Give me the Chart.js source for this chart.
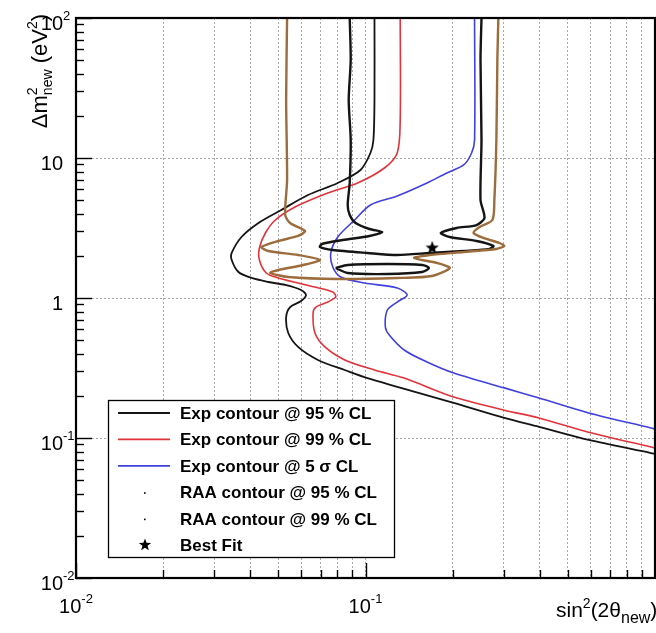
<!DOCTYPE html>
<html>
<head>
<meta charset="utf-8">
<script src="https://cdn.jsdelivr.net/npm/chart.js@4/dist/chart.umd.min.js"></script>
<style>
html,body{margin:0;padding:0;overflow:hidden;background:#fff;}
canvas{display:block;}
</style>
</head>
<body>
<canvas id="c" width="664" height="633" style="width:664px;height:633px"></canvas>
<script>
// ---------- data ----------
const xDecades = [0.01, 0.1, 1];
const yDecades = [0.01, 0.1, 1, 10, 100];
const xTickLabels = ['10^-2', '10^-1', '1'];
const yTickLabels = ['10^-2', '10^-1', '1', '10', '10^2'];

// Exp contour @ 95 % CL (black)
const exp95X = [0.1074,0.1074,0.1065,0.1040,0.0961,0.0802,0.0633,0.0512,0.0427,0.0373,0.0345,0.0345,0.0364,0.0404,0.0462,0.0528,0.0599,0.0623,0.0599,0.0549,0.0532,0.0541,0.0585,0.0685,0.0848,0.1016,0.2018,0.3016,0.3975,0.590,0.969,1.0];
const exp95Y = [100,25.96,13.45,10.86,8.21,6.628,5.441,4.252,3.434,2.727,2.097,1.868,1.534,1.390,1.301,1.239,1.141,1.051,0.952,0.862,0.732,0.562,0.447,0.361,0.306,0.268,0.178,0.139,0.120,0.0968,0.0781,0.0769];

// Exp contour @ 99 % CL (red)
const exp99X = [0.1318,0.1318,0.1287,0.1162,0.0939,0.0741,0.0571,0.0488,0.0451,0.0430,0.0430,0.0454,0.0500,0.0585,0.0669,0.0771,0.0789,0.0741,0.0674,0.0659,0.0669,0.0724,0.0848,0.1074,0.1360,0.2018,0.3016,0.3975,0.590,0.969,1.0];
const exp99Y = [100,18.68,10.86,8.483,6.628,5.623,4.467,3.607,2.913,2.276,1.868,1.509,1.390,1.280,1.198,1.104,1.017,0.936,0.862,0.781,0.562,0.447,0.361,0.306,0.268,0.196,0.158,0.139,0.110,0.0863,0.0848];

// Exp contour @ 5 sigma CL (blue)
const exp5sX = [0.2381,0.2381,0.2325,0.2183,0.1909,0.1631,0.1287,0.1040,0.0917,0.0802,0.0759,0.0771,0.0821,0.0992,0.1287,0.1393,0.1287,0.1190,0.1171,0.1208,0.1360,0.1631,0.2018,0.3016,0.3975,0.590,0.969,1.0];
const exp5sY = [100,13.45,10.86,8.913,7.816,6.628,5.353,4.617,3.607,2.727,2.097,1.665,1.413,1.280,1.179,1.051,0.936,0.821,0.621,0.544,0.425,0.349,0.291,0.228,0.193,0.151,0.118,0.116];

// RAA contour @ 95 % CL (black, open upper part)
const raa95X = [0.0882,0.0889,0.0875,0.0889,0.0882,0.0868,0.0882,0.0924,0.1032,0.1143,0.1032,0.0834,0.0707,0.0696,0.0771,0.1016,0.1287,0.1670,0.2183,0.2680,0.2766,0.2419,0.1955,0.1821,0.2066,0.2419,0.2576,0.2496,0.2516,0.2496,0.2516];
const raa95Y = [100,50.1,25.96,13.45,6.628,4.617,3.917,3.434,3.111,2.961,2.773,2.595,2.431,2.313,2.203,2.097,2.029,2.097,2.167,2.239,2.352,2.554,2.727,2.913,3.162,3.322,3.728,5.012,13.45,50.1,100];
// RAA contour @ 95 % CL (black, closed island)
const raa95IslandX = [0.0789,0.0868,0.1190,0.1568,0.1657,0.1568,0.1190,0.0868,0.0789];
const raa95IslandY = [1.638,1.721,1.750,1.721,1.638,1.534,1.484,1.509,1.638];

// RAA contour @ 99 % CL (brown)
const raa99X = [0.0536,0.0532,0.0536,0.0528,0.0549,0.0618,0.0585,0.0500,0.0437,0.0462,0.0585,0.0696,0.0609,0.0500,0.0469,0.0541,0.0802,0.1287,0.1696,0.1955,0.1764,0.1472,0.1670,0.2183,0.2832,0.3016,0.2900,0.2556,0.2362,0.2477,0.2744,0.2787,0.2832,0.2854,0.2877];
const raa99Y = [100,25.96,6.966,3.917,3.434,3.010,2.773,2.554,2.313,2.167,2.029,1.868,1.721,1.585,1.509,1.413,1.367,1.390,1.436,1.638,1.778,1.931,2.029,2.131,2.239,2.352,2.471,2.683,2.913,3.215,3.607,5.012,13.45,50.1,100];

// Best fit
const bestX = [0.17];
const bestY = [2.3];

const legendLabels = ['Exp contour @ 95 % CL','Exp contour @ 99 % CL','Exp contour @ 5 \u03c3 CL','RAA contour @ 95 % CL','RAA contour @ 99 % CL','Best Fit'];

// ---------- styling ----------
const FONT = '"Liberation Sans", Arial, Helvetica, sans-serif';
const C_BLACK = '#141414', C_RED = '#e3333a', C_BLUE = '#4040de', C_BROWN = '#9c6c3c';

function pts(xs, ys){ return xs.map((x,i)=>({x:x, y:ys[i]})); }
function isDecade(v){ const l = Math.log10(v); return Math.abs(l - Math.round(l)) < 1e-6; }
function gridValues(decades){
  const out = [];
  decades.forEach((d,i)=>{
    if (i === decades.length-1) { out.push(d); return; }
    for (let m=1; m<=9; m++) out.push(+(d*m).toPrecision(6));
  });
  return out;
}
function drawStar(ctx, cx, cy, R, r){
  ctx.beginPath();
  for (let i=0;i<10;i++){
    const ang = -Math.PI/2 + i*Math.PI/5;
    const rad = (i%2===0)?R:r;
    const px = cx + rad*Math.cos(ang), py = cy + rad*Math.sin(ang);
    if (i===0) ctx.moveTo(px,py); else ctx.lineTo(px,py);
  }
  ctx.closePath(); ctx.fill();
}
const starImg = document.createElement('canvas');
starImg.width = 16; starImg.height = 16;
(function(){ const c = starImg.getContext('2d'); c.fillStyle = '#000'; drawStar(c, 8, 8.6, 7, 2.9); })();

function richWidth(ctx, segs){
  let w = 0, prevW = 0;
  segs.forEach(s=>{
    ctx.font = (s.bold?'bold ':'') + s.size + 'px ' + FONT;
    const sw = ctx.measureText(s.t).width;
    if (s.stack){ w += Math.max(0, sw - prevW); }
    else { w += sw; prevW = sw; }
  });
  return w;
}
function drawRich(ctx, segs, x, y){
  let cx = x, prevStart = x, prevW = 0;
  segs.forEach(s=>{
    ctx.font = (s.bold?'bold ':'') + s.size + 'px ' + FONT;
    const sw = ctx.measureText(s.t).width;
    if (s.stack){
      ctx.fillText(s.t, prevStart, y + (s.dy||0));
      cx = prevStart + Math.max(prevW, sw);
    } else {
      ctx.fillText(s.t, cx, y + (s.dy||0));
      prevStart = cx; prevW = sw; cx += sw;
    }
  });
}
function labelSegs(lbl){
  const p = lbl.split('^');
  const segs = [{t:p[0], size:20}];
  if (p[1]) segs.push({t:p[1], size:13, dy:-10});
  return segs;
}

const decor = {
  id: 'decor',
  afterDatasetsDraw(chart){
    const {ctx, chartArea:a, scales:{x, y}} = chart;
    ctx.save();
    // inner tick marks
    ctx.strokeStyle = '#000'; ctx.lineWidth = 1.4;
    x.ticks.forEach(t=>{
      const px = Math.round(x.getPixelForValue(t.value)) + 0.5;
      const len = isDecade(t.value) ? 15 : 8;
      ctx.beginPath(); ctx.moveTo(px, a.bottom); ctx.lineTo(px, a.bottom - len); ctx.stroke();
    });
    y.ticks.forEach(t=>{
      const py = Math.round(y.getPixelForValue(t.value)) + 0.5;
      const len = isDecade(t.value) ? 16 : 8;
      ctx.beginPath(); ctx.moveTo(a.left, py); ctx.lineTo(a.left + len, py); ctx.stroke();
    });
    // frame
    ctx.lineWidth = 2.2;
    ctx.strokeRect(a.left, a.top, a.right - a.left, a.bottom - a.top);

    // tick labels
    ctx.fillStyle = '#000'; ctx.textBaseline = 'alphabetic'; ctx.textAlign = 'left';
    xDecades.forEach((v,i)=>{
      const px = x.getPixelForValue(v);
      if (px > 640) return; // label of the last decade lies beyond the visible window
      const segs = labelSegs(xTickLabels[i]);
      const w = richWidth(ctx, segs);
      drawRich(ctx, segs, px - w/2, a.bottom + 35);
    });
    yDecades.forEach((v,i)=>{
      const segs = labelSegs(yTickLabels[i]);
      ctx.font = '20px ' + FONT;
      const bw = ctx.measureText(segs[0].t).width;
      const py = y.getPixelForValue(v);
      drawRich(ctx, segs, 63 - bw, py + 12);
    });

    // axis titles
    const xt = [{t:'sin',size:21},{t:'2',size:14,dy:-9},{t:'(2\u03b8',size:21},{t:'new',size:16,dy:6},{t:')',size:21}];
    drawRich(ctx, xt, 556, 617);
    const yt = [{t:'\u0394m',size:22},{t:'2',size:14,dy:-10},{t:'new',size:14,dy:5,stack:true},{t:' (eV',size:22},{t:'2',size:14,dy:-10},{t:')',size:22}];
    const yw = richWidth(ctx, yt);
    ctx.save();
    ctx.translate(47, 14 + yw);
    ctx.rotate(-Math.PI/2);
    drawRich(ctx, yt, 0, 0);
    ctx.restore();

    // legend box
    const L = 108.5, T = 400.5, W = 286, H = 157;
    ctx.fillStyle = '#fff'; ctx.fillRect(L, T, W, H);
    ctx.strokeStyle = '#000'; ctx.lineWidth = 1.3; ctx.strokeRect(L, T, W, H);
    const kinds = ['line','line','line','dot','dot','star'];
    const cols = [C_BLACK, C_RED, C_BLUE, '#000', '#000', '#000'];
    legendLabels.forEach((lab,i)=>{
      const base = 419 + i*26.4;
      const cy = base - 6;
      if (kinds[i]==='line'){
        ctx.strokeStyle = cols[i]; ctx.lineWidth = 1.8;
        ctx.beginPath(); ctx.moveTo(118, cy); ctx.lineTo(170, cy); ctx.stroke();
      } else if (kinds[i]==='dot'){
        ctx.fillStyle = '#000'; ctx.fillRect(144, cy, 1.6, 1.6);
      } else {
        ctx.fillStyle = '#000'; drawStar(ctx, 145, cy, 6.5, 2.7);
      }
      ctx.fillStyle = '#000';
      ctx.font = 'bold 17px ' + FONT;
      ctx.fillText(lab, 180, base);
    });
    ctx.restore();
  }
};

const lineDs = (label, xs, ys, color, width, tension) => ({
  label, data: pts(xs, ys), showLine: true, borderColor: color, backgroundColor: color,
  borderWidth: width, pointRadius: 0, tension: tension, fill: false
});

new Chart(document.getElementById('c'), {
  type: 'scatter',
  data: {
    datasets: [
      lineDs('RAA contour @ 99 % CL', raa99X, raa99Y, C_BROWN, 2.4, 0.25),
      lineDs('RAA contour @ 95 % CL', raa95X, raa95Y, C_BLACK, 2.4, 0.25),
      lineDs('RAA contour @ 95 % CL (island)', raa95IslandX, raa95IslandY, C_BLACK, 2.4, 0.3),
      lineDs('Exp contour @ 95 % CL', exp95X, exp95Y, C_BLACK, 1.8, 0.3),
      lineDs('Exp contour @ 99 % CL', exp99X, exp99Y, C_RED, 1.6, 0.3),
      lineDs('Exp contour @ 5 \u03c3 CL', exp5sX, exp5sY, C_BLUE, 1.6, 0.3),
      { label:'Best Fit', data: pts(bestX, bestY), showLine:false, pointStyle: starImg, pointRadius: 8 }
    ]
  },
  options: {
    responsive: false,
    animation: false,
    events: [],
    layout: { padding: { left: 76, right: 4, top: 18, bottom: 55 } },
    plugins: { legend: { display: false }, tooltip: { enabled: false }, title: { display: false } },
    scales: {
      x: {
        type: 'logarithmic', min: 0.01, max: 1,
        afterBuildTicks: s => { s.ticks = gridValues(xDecades).map(v => ({value: v})); },
        ticks: { display: false },
        grid: { color: '#a8a8a8', lineWidth: 1, drawTicks: false },
        border: { display: false, dash: [2, 2] },
        title: { display: false }
      },
      y: {
        type: 'logarithmic', min: 0.01, max: 100,
        afterBuildTicks: s => { s.ticks = gridValues(yDecades).map(v => ({value: v})); },
        ticks: { display: false },
        grid: { color: c => (c.tick && isDecade(c.tick.value)) ? '#a8a8a8' : 'rgba(0,0,0,0)', lineWidth: 1, drawTicks: false },
        border: { display: false, dash: [2, 2] },
        title: { display: false }
      }
    }
  },
  plugins: [decor]
});
</script>
</body>
</html>
